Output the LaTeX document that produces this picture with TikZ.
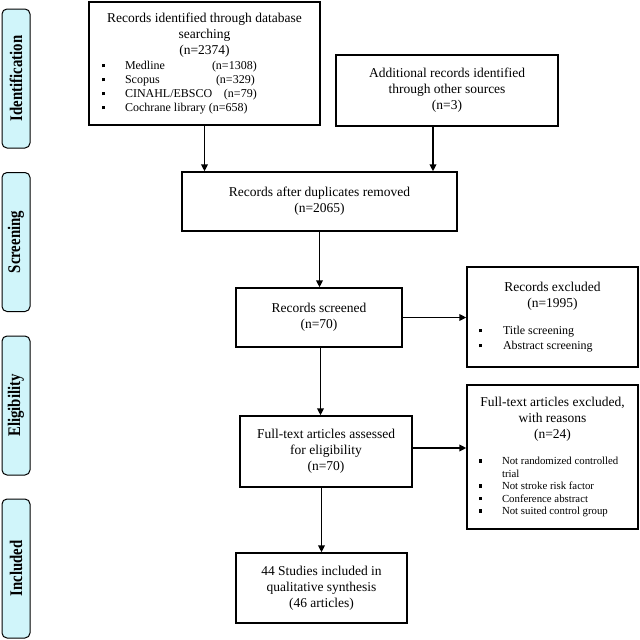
\documentclass[tikz,border=0pt]{standalone}
\usepackage{fontspec}
\setmainfont{Liberation Serif}
\usetikzlibrary{arrows.meta}
\definecolor{phasec}{RGB}{208,245,250}
\newcommand{\sqb}{\rule[2pt]{3pt}{3.5pt}}
\newcommand{\phtxt}[1]{\scalebox{1}[1.2]{#1}}
\begin{document}
\begin{tikzpicture}[x=1pt,y=-1pt,
  box/.style={draw, line width=1.3pt, align=center, inner sep=0pt,
    font=\fontsize{13.5}{16}\selectfont},
  phase/.style={draw, fill=phasec, rounded corners=5pt, line width=1pt,
    minimum width=139pt, minimum height=28pt, inner sep=0pt, rotate=90,
    font=\fontsize{14.8}{18}\selectfont\bfseries},
  arr/.style={line width=1.9pt, -{Triangle[length=7pt,width=6.5pt]}}]
\fill[white] (0,0) rectangle (640,640);
\useasboundingbox (0,0) rectangle (640,640);

% phase labels
\node[phase] (pid) at (16,78.5) {\phtxt{Identification}};
\node[phase] (psc) at (16,242) {\phtxt{Screening}};
\node[phase] (pel) at (16,405.5) {\phtxt{Eligibility}};
\node[phase] (pin) at (16,568.5) {\phtxt{Included}};

% boxes
\node[box, minimum width=231pt, minimum height=123pt] (db) at (204.5,63.5)
 {Records identified through database\\searching\\(n=2374)\\[-1pt]
  \parbox[t]{205pt}{\fontsize{12}{14}\selectfont\raggedright
   \makebox[23pt][l]{\sqb}\makebox[87pt][l]{Medline}(n=1308)\\
   \makebox[23pt][l]{\sqb}\makebox[91pt][l]{Scopus}(n=329)\\
   \makebox[23pt][l]{\sqb}\makebox[99pt][l]{CINAHL/EBSCO}(n=79)\\
   \makebox[23pt][l]{\sqb}Cochrane library (n=658)}};

\node[box, minimum width=222pt, minimum height=71pt] (oth) at (447,90.5)
 {Additional records identified\\through other sources\\(n=3)};

\node[box, minimum width=275pt, minimum height=59pt] (dup) at (319.5,201.5)
 {Records after duplicates removed\\(n=2065)};

\node[box, minimum width=166pt, minimum height=59pt] (scr) at (319,317.5)
 {Records screened\\(n=70)};

\node[box, minimum width=171pt, minimum height=100pt] (rex) at (552.5,317)
 {Records excluded\\(n=1995)\\[11pt]
  \parbox[t]{147pt}{\fontsize{12}{15}\selectfont\raggedright
   \makebox[24pt][l]{\sqb}Title screening\\
   \makebox[24pt][l]{\sqb}Abstract screening}};

\node[box, minimum width=172pt, minimum height=71pt] (ft) at (326,451.5)
 {Full-text articles assessed\\for eligibility\\(n=70)};

\node[box, minimum width=171pt, minimum height=144pt] (ftx) at (552.5,457)
 {Full-text articles excluded,\\with reasons\\(n=24)\\[10pt]
  \parbox[t]{147pt}{\fontsize{10.8}{12.5}\selectfont\raggedright
   \makebox[23pt][l]{\sqb}Not randomized controlled\\
   \hspace*{23pt}trial\\
   \makebox[23pt][l]{\sqb}Not stroke risk factor\\
   \makebox[23pt][l]{\sqb}Conference abstract\\
   \makebox[23pt][l]{\sqb}Not suited control group}};

\node[box, minimum width=171pt, minimum height=70pt] (inc) at (321.5,588)
 {44 Studies included in\\qualitative synthesis\\(46 articles)};

% connectors
\coordinate (ftout) at ([yshift=3.5pt]ft.east);
\coordinate (othout) at ([xshift=-14pt]oth.south);
\coordinate (scrout) at ([xshift=1.5pt]scr.south);
\draw[arr] (db.south) -- (db.south |- dup.north);
\draw[arr] (othout) -- (othout |- dup.north);
\draw[arr] (dup.south) -- (dup.south |- scr.north);
\draw[arr] (scr.east) -- (rex.west |- scr.east);
\draw[arr] (scrout) -- (scrout |- ft.north);
\draw[arr] (ftout) -- (ftx.west |- ftout);
\draw[arr] (inc.north |- ft.south) -- (inc.north);
\end{tikzpicture}
\end{document}
